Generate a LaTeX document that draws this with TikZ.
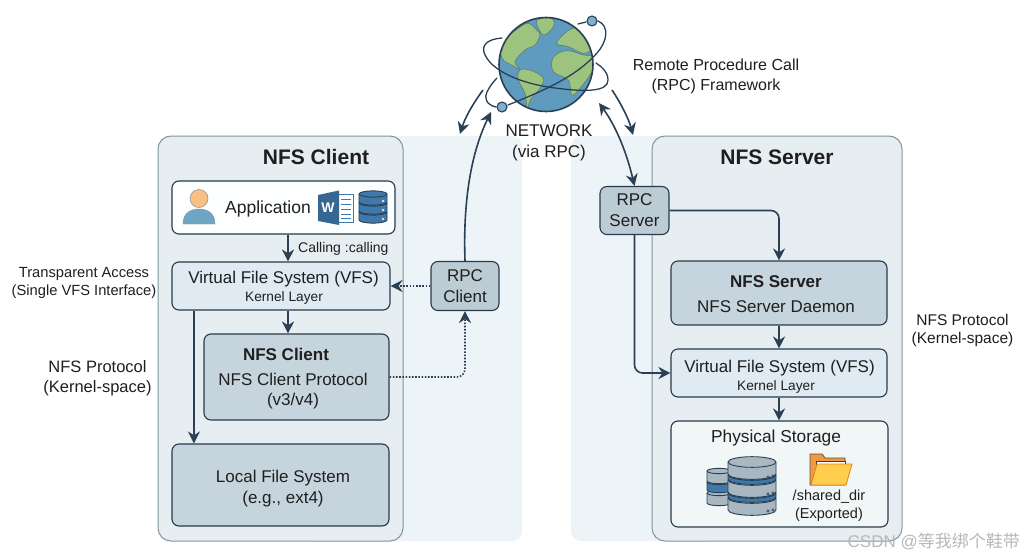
\documentclass[tikz,border=0pt]{standalone}
\usepackage{fontspec}
\setmainfont{Liberation Sans}
\newfontfamily\cjk{Noto Sans CJK SC}
\usetikzlibrary{arrows.meta}
\definecolor{inkblue}{HTML}{2B4054}
\definecolor{bandfill}{HTML}{EDF4F7}
\definecolor{panelfill}{HTML}{E6EEF1}
\definecolor{paneledge}{HTML}{7F95A1}
\definecolor{vfsfill}{HTML}{DFEAF2}
\definecolor{daemonfill}{HTML}{C5D4DD}
\definecolor{rpcfill}{HTML}{BCCCD5}
\definecolor{oceanblue}{HTML}{5E9BBF}
\definecolor{landgreen}{HTML}{9DC47E}
\definecolor{diskgray}{HTML}{A9B7C1}
\definecolor{diskblue}{HTML}{3F79AC}
\newcommand{\fsz}[1]{\fontsize{#1}{\fpeval{#1*1.22}}\selectfont}
\tikzset{
  box/.style={draw=inkblue!90!black, line width=1.1pt, rounded corners=7pt, inner sep=0pt, align=center, text=black!88},
  panel/.style={draw=paneledge, line width=1pt, fill=panelfill, rounded corners=13pt, inner sep=0pt},
  txt/.style={inner sep=0pt, align=center, text=black!88, yshift=-1.5pt},
  flow/.style={draw=inkblue, line width=1.6pt, rounded corners=8pt, -{Stealth[length=12pt,width=12pt]}},
  rpcflow/.style={flow, dash pattern=on 1.6pt off 1.6pt},
  orbit/.style={draw=inkblue, line width=1.3pt, line cap=round},
  land/.style={fill=landgreen, draw=inkblue!60!landgreen, line width=0.5pt},
}
% one disk of a storage stack: x, top y, width, height, fill
\newcommand{\dbdisk}[5]{
  \draw [draw=inkblue, line width=0.9pt, fill=#5] (#1,#2) -- (#1,#2+#4) arc [start angle=180, end angle=0, x radius=#3/2, y radius=#3/9] -- (#1+#3,#2) arc [start angle=0, end angle=-180, x radius=#3/2, y radius=#3/9] -- cycle;
  \draw [draw=inkblue, line width=0.9pt] (#1,#2) arc [start angle=180, end angle=0, x radius=#3/2, y radius=#3/9];
}
\begin{document}
\begin{tikzpicture}[x=1pt,y=-1pt]
\useasboundingbox (0,0) rectangle (1024,559);
\fill [white] (0,0) rectangle (1024,559);

% bands behind the panels
\fill [bandfill, rounded corners=10pt] (300,136) rectangle (522,541);
\fill [bandfill, rounded corners=10pt] (571,136) rectangle (720,541);

% panels
\node (clientpanel) [panel, minimum width=245pt, minimum height=405pt] at (280.5,338.5) {};
\node (serverpanel) [panel, minimum width=250pt, minimum height=405pt] at (777,338.5) {};
\node (clienttitle) [txt, font=\bfseries\fsz{21}] at (316,155.5) {NFS Client};
\node (servertitle) [txt, font=\bfseries\fsz{21}] at (777,155.5) {NFS Server};
\coordinate (clientaxis) at (288,300);

% client side
\node (app) [box, fill=white!92!panelfill, minimum width=223pt, minimum height=53pt] at (283.5,207.5) {};
\node (apptext) [txt, font=\fsz{17.5}] at (268,207) {Application};
\node (vfsc) [box, fill=vfsfill, minimum width=218pt, minimum height=48pt] at (281,286) {};
\node (vfsctext) [txt, font=\fsz{17}] at (283.5,277.5) {Virtual File System (VFS)};
\node (vfsclayer) [txt, font=\fsz{13.7}] at (284,296.5) {Kernel Layer};
\node (nfsc) [box, fill=daemonfill, minimum width=185pt, minimum height=86pt] at (296.5,377) {};
\node (nfsctitle) [txt, font=\bfseries\fsz{17}] at (286,353) {NFS Client};
\node (nfsctext) [txt, font=\fsz{17}] at (293,389.5) {NFS Client Protocol\\(v3/v4)};
\node (lfs) [box, fill=daemonfill, minimum width=217pt, minimum height=82pt] at (280.5,485) {};
\node (lfstext) [txt, font=\fsz{17}] at (283,487) {Local File System\\(e.g., ext4)};
\node (rpcc) [box, fill=rpcfill, minimum width=68pt, minimum height=49pt, font=\fsz{17}] at (465,286) {RPC\\Client};

% server side
\node (rpcs) [box, fill=rpcfill, minimum width=69pt, minimum height=48pt, font=\fsz{17}] at (634.5,210.5) {RPC\\Server};
\node (nfsd) [box, fill=daemonfill, minimum width=216pt, minimum height=64pt] at (779,293) {};
\node (nfsdtitle) [txt, font=\bfseries\fsz{17}] at (776,280) {NFS Server};
\node (nfsdtext) [txt, font=\fsz{17}] at (776,305) {NFS Server Daemon};
\node (vfss) [box, fill=vfsfill, minimum width=216pt, minimum height=48pt] at (779,373) {};
\node (vfsstext) [txt, font=\fsz{17}] at (779.5,366.5) {Virtual File System (VFS)};
\node (vfsslayer) [txt, font=\fsz{13.7}] at (776,385.5) {Kernel Layer};
\node (store) [box, fill=white!45!panelfill, minimum width=217pt, minimum height=106pt] at (779.5,474) {};
\node (storetitle) [txt, font=\fsz{17.3}] at (776,437) {Physical Storage};
\node (sharedir) [txt, font=\fsz{14.5}] at (829,504.5) {/shared\_dir\\(Exported)};

% outside labels
\node (access) [txt, font=\fsz{14.7}] at (84,281) {Transparent Access\\(Single VFS Interface)};
\node (protoc) [txt, font=\fsz{16.5}] at (97.5,377) {NFS Protocol\\(Kernel-space)};
\node (protos) [txt, font=\fsz{15.5}] at (962.5,329) {NFS Protocol\\(Kernel-space)};
\node (rpclabel) [txt, font=\fsz{16}] at (716,75) {Remote Procedure Call\\(RPC) Framework};
\node (netlabel) [txt, font=\fsz{17}] at (549,141.5) {NETWORK\\(via RPC)};
\node (calling) [txt, font=\fsz{14}, anchor=west] at (298,247) {Calling :calling};

% flows inside the panels
\draw [flow] (app.south -| clientaxis) -- (vfsc.north -| clientaxis);
\draw [flow] (vfsc.south -| clientaxis) -- (nfsc.north -| clientaxis);
\draw [flow] ([xshift=22.5pt]vfsc.south west) -- ([xshift=22.5pt]lfs.north west);
\draw [rpcflow] (rpcc.west) -- (vfsc.east |- rpcc.west);
\draw [rpcflow] (nfsc.east) -| (rpcc.south);
\draw [flow] (rpcs.east) -| (nfsd.north);
\draw [flow] (rpcs.south) |- (vfss.west);
\draw [flow] (nfsd.south) -- (vfss.north);
\draw [flow] (vfss.south) -- (store.north -| vfss.south);

% globe
\node (globe) [circle, fill=oceanblue, minimum size=94pt, inner sep=0pt] at (546,64.5) {};
\begin{scope}[shift={(440,0)}, x=0.3333pt, y=-0.3333pt]
\clip (318,192) circle [radius=141];
\draw [land] plot [smooth cycle, tension=0.6] coordinates {(235,85) (265,70) (290,90) (300,105) (285,135) (255,150) (225,185) (240,208) (215,195) (190,180) (182,150) (200,115)};
\draw [land] plot [smooth cycle, tension=0.6] coordinates {(290,62) (335,55) (340,80) (310,105)};
\draw [land] plot [smooth cycle, tension=0.6] coordinates {(240,210) (275,212) (310,235) (300,265) (272,298) (262,325) (255,280) (235,240)};
\draw [land] plot [smooth cycle, tension=0.6] coordinates {(340,172) (380,152) (430,165) (458,170) (458,210) (420,265) (395,285) (385,240) (340,215)};
\draw [land] plot [smooth cycle, tension=0.6] coordinates {(350,130) (380,95) (410,85) (445,110) (455,145) (430,160) (385,140)};
\end{scope}
\node (globerim) [circle, draw=inkblue, line width=1.6pt, minimum size=94pt, inner sep=0pt] at (546,64.5) {};

% orbits
\draw [orbit] (502,38) .. controls (488,39) and (480,45) .. (485,55) .. controls (495,75) and (530,85) .. (555,88) .. controls (585,92) and (608,92) .. (608,80) .. controls (608,72) and (602,67) .. (596,63);
\draw [orbit] (578,24) -- (586,22);
\draw [orbit] (598,21) .. controls (610,26) and (607,42) .. (597,53) .. controls (575,78) and (540,92) .. (508,105);
\draw [orbit] (496,107) .. controls (486,105) and (484,97) .. (487,92) .. controls (490,86) and (493,82) .. (497,78);
\node (sat1) [circle, draw=inkblue, line width=1.1pt, fill=oceanblue!80!white, minimum size=10pt, inner sep=0pt] at (592,21) {};
\node (sat2) [circle, draw=inkblue, line width=1.1pt, fill=oceanblue!80!white, minimum size=10pt, inner sep=0pt] at (502,107) {};

% network arrows
\coordinate (netclientout) at (483,90);
\coordinate (netclientin) at (460,134);
\coordinate (netclientup) at (491,112);
\coordinate (netserverin) at (599,103);
\coordinate (netserverout) at (612,90);
\coordinate (netserverdown) at (633,135);
\draw [flow] (netclientout) .. controls (472,105) and (465,118) .. (netclientin);
\draw [flow] (rpcc.north) .. controls (463,205) and (470,155) .. (netclientup);
\draw [flow, {Stealth[length=12pt,width=12pt]}-{Stealth[length=12pt,width=12pt]}] (netserverin) .. controls (615,125) and (626,150) .. (rpcs.north);
\draw [flow] (netserverout) .. controls (622,105) and (629,120) .. (netserverdown);

% person
\fill [oceanblue!90!white, draw=paneledge, line width=0.4pt] (183,224) .. controls (183,212) and (192,209) .. (199,209) .. controls (206,209) and (215,212) .. (215,224) -- cycle;
\fill [orange!45!white!90!brown, draw=paneledge, line width=0.5pt] (199,198.5) circle [radius=9];

% word icon
\fill [white, draw=diskblue, line width=0.7pt] (338,194) rectangle (353,222);
\foreach \liney in {199,204,209,214,218} \draw [diskblue, line width=0.9pt] (341,\liney) -- (351,\liney);
\fill [diskblue!85!black] (318,195) -- (339,190.5) -- (339,225) -- (318,221) -- cycle;
\node (wordw) [inner sep=0pt, text=white, font=\bfseries\fsz{14}] at (328,208) {W};

% app database
\dbdisk{359}{212}{28}{8}{diskblue}
\dbdisk{359}{203}{28}{8}{diskblue}
\dbdisk{359}{194}{28}{8}{diskblue}
\foreach \doty in {199,208,217} \fill [white] (383,\doty+2) circle [radius=1.1];

% server stacks
\dbdisk{707}{493}{24}{10}{diskgray}
\dbdisk{707}{482}{24}{8}{diskblue}
\dbdisk{707}{471}{24}{10}{diskgray}
\dbdisk{728}{498}{48}{12}{diskgray}
\dbdisk{728}{493}{48}{4}{diskblue}
\dbdisk{728}{480}{48}{12}{diskgray}
\dbdisk{728}{475}{48}{4}{diskblue}
\dbdisk{728}{462}{48}{12}{diskgray}
\foreach \doty in {478,495,512} {
  \draw [inkblue, line width=0.6pt] (768,\doty-1) circle [radius=1.3] (773,\doty-2) circle [radius=1.3];
}

% folder
\fill [draw=inkblue!70!brown, line width=0.8pt, fill=orange!70!brown!80!white] (810,485) -- (810,454) -- (822,454) -- (825,458) -- (845,458) -- (845,465) -- (845,485) -- cycle;
\fill [white, draw=inkblue, line width=0.5pt] (816,461) rectangle (845,472);
\fill [draw=orange!60!brown, line width=0.8pt, fill=orange!55!yellow!70!white] (811,485) -- (817,464) -- (852,464) -- (846,485) -- cycle;

% watermark
\node (mark) [inner sep=0pt, text=black!28, font=\fsz{17}, anchor=east] at (1020,541) {CSDN @{\cjk 等我绑个鞋带}};
\end{tikzpicture}
\end{document}
